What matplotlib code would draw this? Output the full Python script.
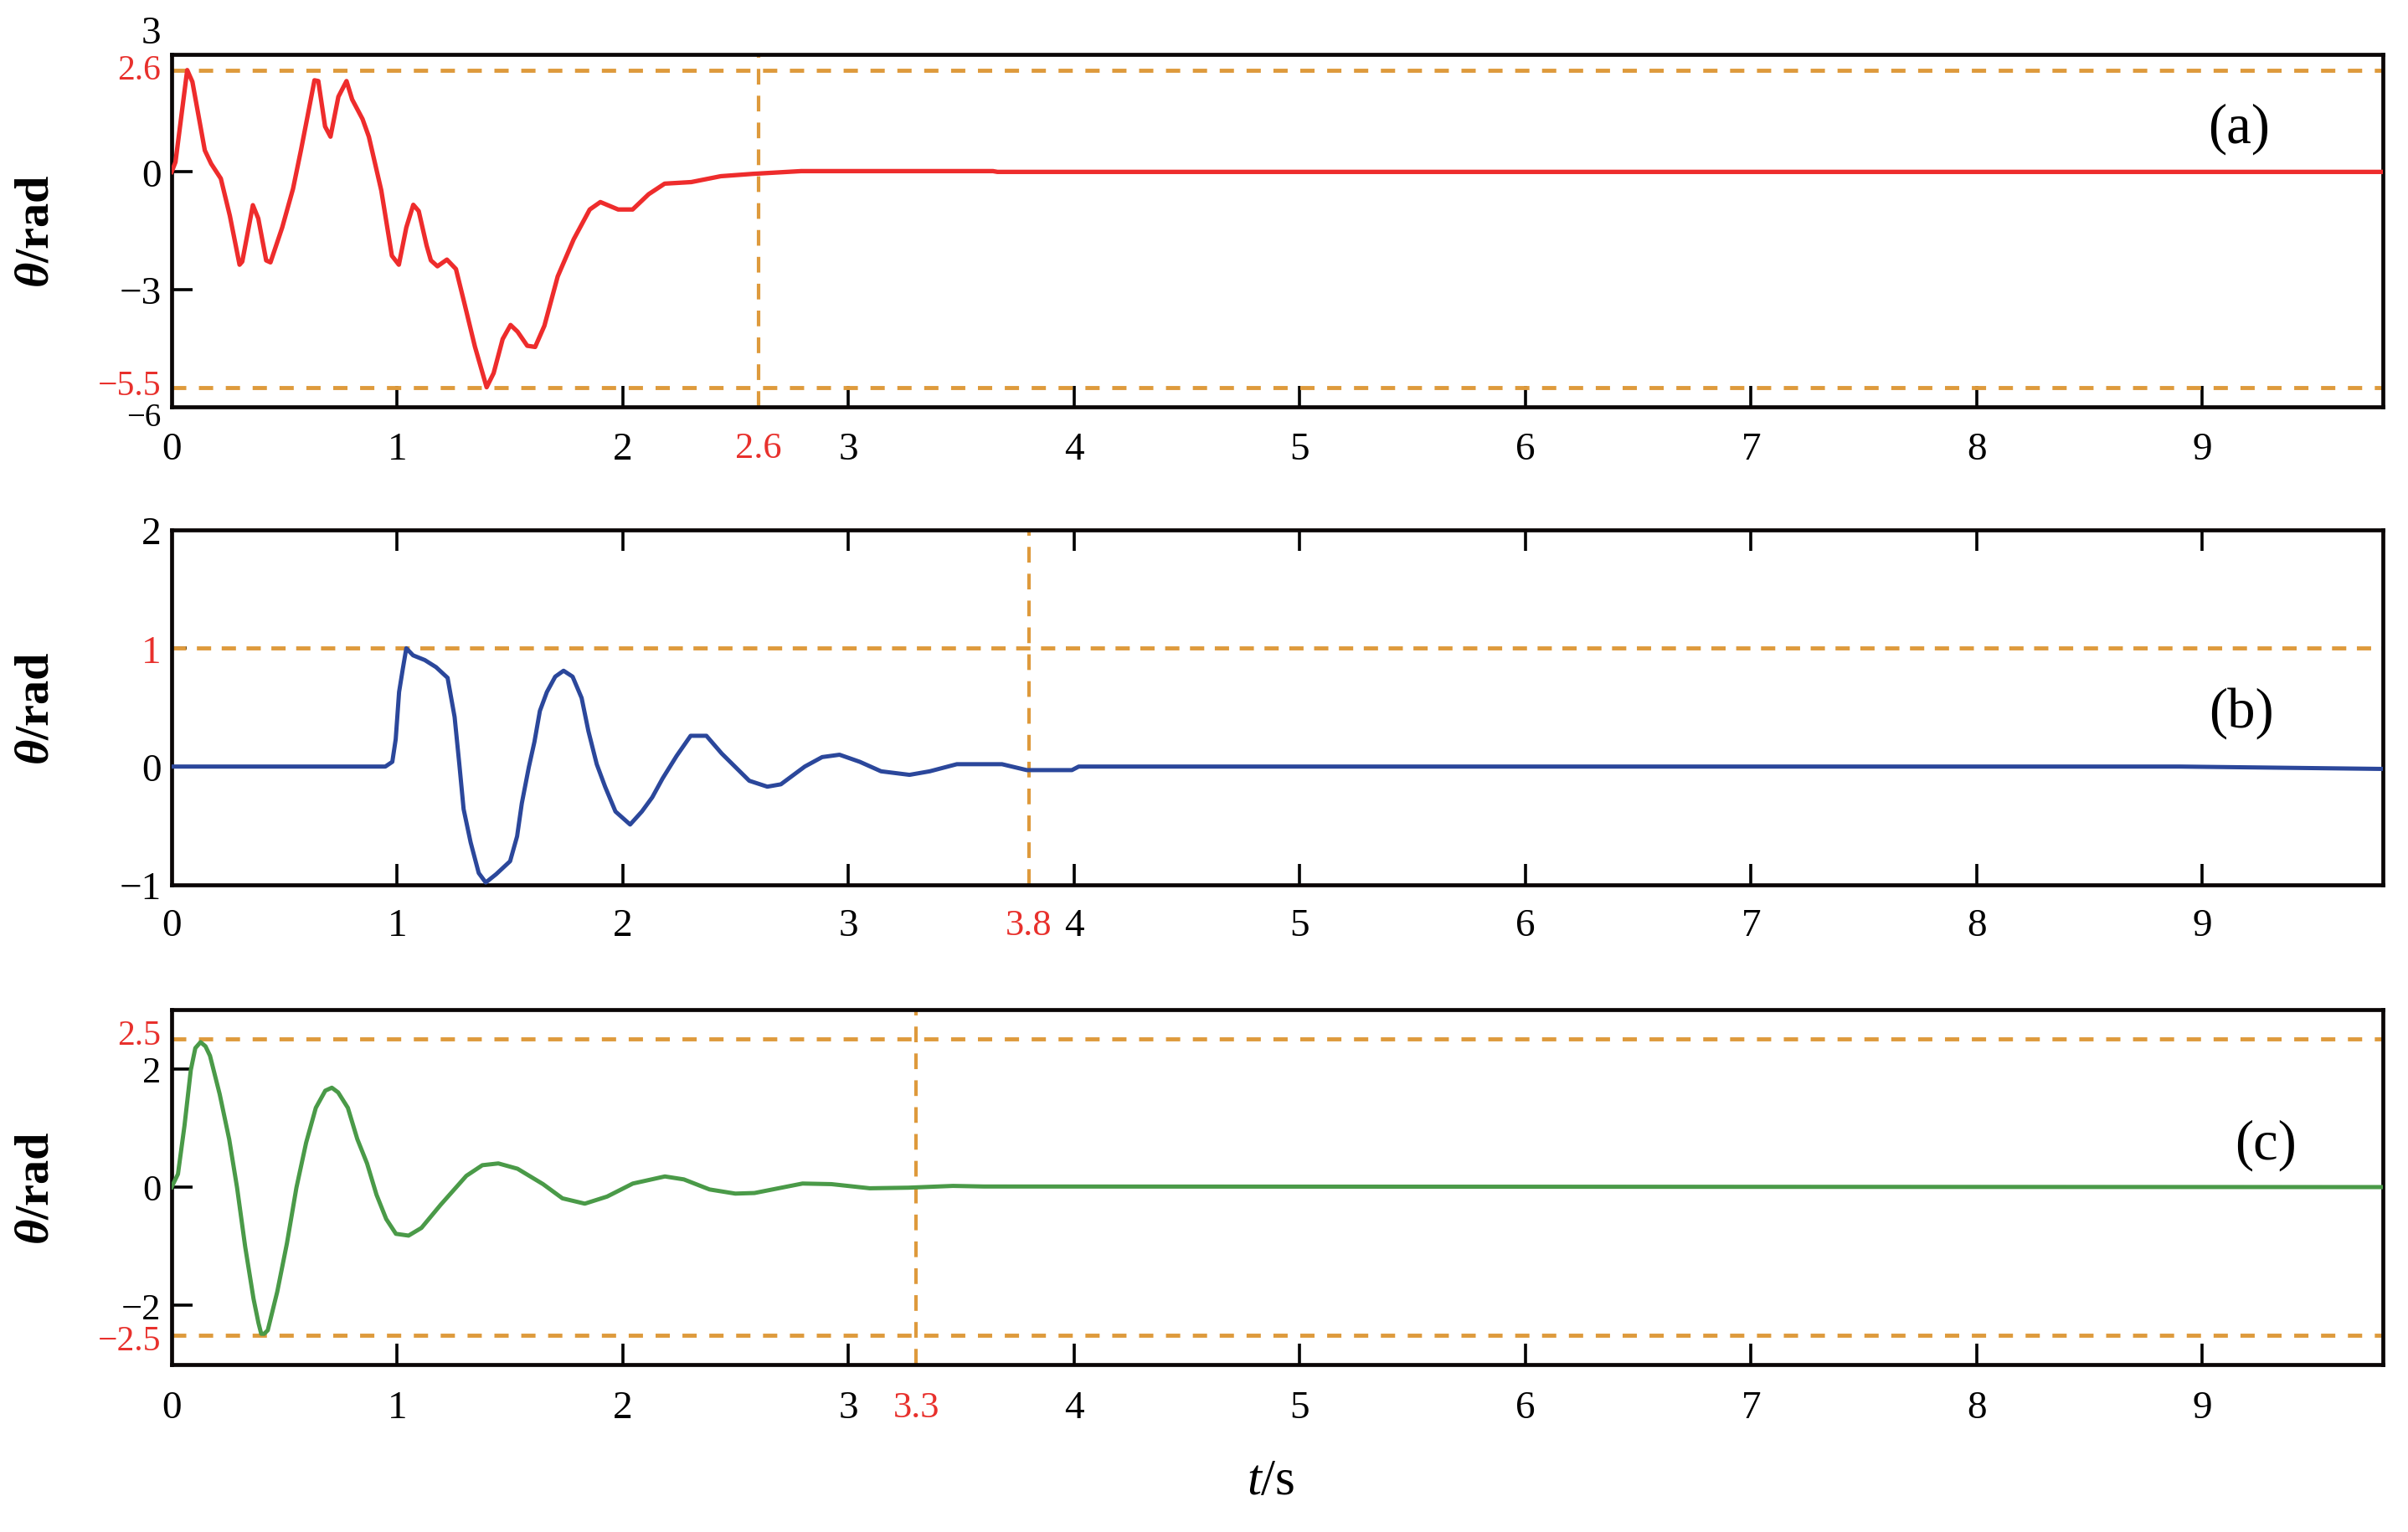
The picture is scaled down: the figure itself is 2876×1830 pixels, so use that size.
import matplotlib
matplotlib.use("Agg")
import matplotlib.pyplot as plt

plt.rcParams['font.family'] = ['Liberation Serif', 'DejaVu Serif']
plt.rcParams['mathtext.fontset'] = 'custom'
plt.rcParams['mathtext.rm'] = 'Liberation Serif'
plt.rcParams['mathtext.it'] = 'Liberation Serif:italic'
plt.rcParams['mathtext.bf'] = 'Liberation Serif:bold'
plt.rcParams['mathtext.bfit'] = 'Liberation Serif:bold:italic'

# ---------------- data ----------------
ta = [0, 0.017, 0.069, 0.092, 0.147, 0.175, 0.218, 0.258, 0.301, 0.313, 0.360, 0.384, 0.419,
      0.438, 0.49, 0.538, 0.573, 0.604, 0.633, 0.65, 0.68, 0.704, 0.739, 0.775, 0.80, 0.846,
      0.874, 0.929, 0.976, 1.007, 1.040, 1.071, 1.095, 1.130, 1.149, 1.178, 1.22, 1.26, 1.296,
      1.344, 1.396, 1.427, 1.467, 1.502, 1.533, 1.576, 1.611, 1.652, 1.711, 1.782, 1.853, 1.90,
      1.979, 2.043, 2.114, 2.185, 2.303, 2.434, 2.576, 2.79, 3.64, 3.66, 9.8]
ya = [0, 0.25, 2.6, 2.30, 0.55, 0.21, -0.17, -1.12, -2.37, -2.29, -0.85, -1.19, -2.26,
      -2.31, -1.42, -0.43, 0.55, 1.47, 2.34, 2.32, 1.16, 0.90, 1.92, 2.32, 1.85, 1.35,
      0.90, -0.47, -2.14, -2.37, -1.42, -0.84, -1.00, -1.88, -2.26, -2.41, -2.24, -2.48, -3.32,
      -4.46, -5.5, -5.14, -4.27, -3.91, -4.08, -4.44, -4.47, -3.93, -2.67, -1.72, -0.96, -0.77,
      -0.96, -0.96, -0.57, -0.30, -0.26, -0.11, -0.05, 0.02, 0.02, 0.0, 0.0]

tb = [0, 0.947, 0.978, 0.993, 1.008, 1.024, 1.04, 1.07, 1.122, 1.172, 1.223, 1.254, 1.275,
      1.294, 1.325, 1.361, 1.392, 1.438, 1.50, 1.531, 1.552, 1.583, 1.608, 1.632, 1.663, 1.70,
      1.737, 1.777, 1.817, 1.847, 1.884, 1.921, 1.967, 2.032, 2.084, 2.13, 2.176, 2.238, 2.30,
      2.37, 2.438, 2.56, 2.64, 2.70, 2.806, 2.883, 2.96, 3.05, 3.144, 3.27, 3.36, 3.48, 3.68,
      3.79, 3.99, 4.02, 8.9, 9.8]
yb = [0, 0, 0.04, 0.23, 0.63, 0.82, 1.0, 0.94, 0.90, 0.84, 0.75, 0.42, 0.02,
      -0.36, -0.64, -0.90, -0.98, -0.91, -0.80, -0.59, -0.31, -0.005, 0.21, 0.47, 0.63, 0.76,
      0.81, 0.76, 0.58, 0.30, 0.02, -0.17, -0.38, -0.49, -0.38, -0.26, -0.10, 0.09, 0.26,
      0.26, 0.11, -0.12, -0.17, -0.15, 0.0, 0.08, 0.10, 0.04, -0.04, -0.07, -0.04, 0.02, 0.02,
      -0.03, -0.03, 0.0, 0.0, -0.02]

tc = [0, 0.028, 0.057, 0.085, 0.105, 0.128, 0.15, 0.17, 0.213, 0.255, 0.29, 0.326, 0.363,
      0.385, 0.397, 0.41, 0.426, 0.468, 0.511, 0.553, 0.596, 0.639, 0.681, 0.71, 0.738, 0.781,
      0.823, 0.866, 0.908, 0.951, 0.994, 1.05, 1.107, 1.192, 1.306, 1.377, 1.448, 1.533,
      1.646, 1.732, 1.831, 1.93, 2.044, 2.186, 2.27, 2.384, 2.498, 2.583, 2.796, 2.924,
      3.094, 3.265, 3.463, 3.6, 9.8]
yc = [0, 0.22, 1.04, 1.98, 2.35, 2.45, 2.38, 2.22, 1.57, 0.81, -0.01, -1.01, -1.89,
      -2.30, -2.48, -2.48, -2.42, -1.77, -0.95, -0.01, 0.75, 1.34, 1.63, 1.68, 1.60, 1.34,
      0.81, 0.40, -0.13, -0.54, -0.79, -0.82, -0.69, -0.30, 0.19, 0.37, 0.40, 0.31,
      0.05, -0.19, -0.28, -0.16, 0.06, 0.18, 0.13, -0.04, -0.11, -0.10, 0.06, 0.05,
      -0.02, -0.01, 0.02, 0.01, 0.0]

int_ticks = [0, 1, 2, 3, 4, 5, 6, 7, 8, 9]
mark_a, mark_b, mark_c = 2.6, 3.8, 3.3
bounds_a = (2.6, -5.5)
bound_b = 1
bounds_c = (2.5, -2.5)

RED = '#E8302C'
ORANGE = '#DE9A3C'
LINE_RED = '#EE2C2C'
BLUE = '#2B479B'
GREEN = '#4A9A48'
MINUS = '\u2212'

W, H = 2876, 1831
fig = plt.figure(figsize=(W / 100, H / 100), dpi=100)

L = 205 / W
Wd = (2846 - 205) / W

def ax_at(top_px, bot_px):
    return fig.add_axes([L, 1 - bot_px / H, Wd, (bot_px - top_px) / H])

axa = ax_at(66, 487)
axb = ax_at(634, 1058)
axc = ax_at(1207, 1631)

TICK_FS = 34
RED_FS = 32

def fmt(v):
    s = ('%g' % v)
    return s.replace('-', MINUS)

def side_label(ax, text, y, dy, fs, color='black'):
    ax.annotate(text, xy=(0, y), xycoords=('axes fraction', 'data'), xytext=(-9, dy),
                textcoords='offset points', ha='right', va='center', fontsize=fs, color=color)

def style(ax, ylim, xmark, top_ticks=False, ytick_len=18, xpad=18):
    ax.set_xlim(0, 9.8)
    ax.set_ylim(*ylim)
    for s in ax.spines.values():
        s.set_linewidth(3.4)
        s.set_color('#0a0606')
    xt = sorted(int_ticks + [xmark])
    ax.set_xticks(xt)
    ax.set_xticklabels([fmt(v) for v in xt], fontsize=TICK_FS)
    ax.tick_params(axis='x', direction='in', length=18, width=2.6, pad=xpad,
                   top=top_ticks, bottom=True)
    ax.tick_params(axis='y', direction='in', length=ytick_len, width=2.6, pad=9,
                   left=True, right=False)
    for t, v in zip(ax.xaxis.get_major_ticks(), xt):
        if v == xmark:
            t.label1.set_color(RED)
            t.label1.set_fontsize(RED_FS)
            t.tick1line.set_visible(False)
            t.tick2line.set_visible(False)
        if v == 0:
            t.tick1line.set_visible(False)
            t.tick2line.set_visible(False)
    ax.axvline(xmark, color=ORANGE, lw=3.0, dashes=(4.5, 3.2))

def ylab(ax):
    ax.text(-0.061, 0.5, r'$\mathbfit{\theta}$/rad', transform=ax.transAxes,
            rotation=90, ha='center', va='center', fontsize=42, fontweight='bold')

# ---------------- panel a ----------------
axa.plot(ta, ya, color=LINE_RED, lw=3.8, zorder=3)
style(axa, (-6, 3), mark_a, xpad=21)
axa.set_yticks([0, -3])
axa.set_yticklabels([fmt(v) for v in (0, -3)], fontsize=TICK_FS)
for v in bounds_a:
    axa.axhline(v, color=ORANGE, lw=3.5, dashes=(3.5, 3.1))
side_label(axa, fmt(bounds_a[0]), bounds_a[0], 0, 30, RED)
side_label(axa, fmt(bounds_a[1]), bounds_a[1], 1, 30, RED)
side_label(axa, '3', 3, 18, TICK_FS)
side_label(axa, fmt(-6), -6, -9, 28)
axa.text(0.935, 0.79, '(a)', transform=axa.transAxes, ha='center', va='center', fontsize=48)
ylab(axa)

# ---------------- panel b ----------------
axb.plot(tb, yb, color=BLUE, lw=3.6, zorder=3)
style(axb, (-1, 2), mark_b, top_ticks=True, ytick_len=13, xpad=20)
yb_ticks = [-1, 0, bound_b, 2]
axb.set_yticks(yb_ticks)
axb.set_yticklabels([fmt(v) for v in yb_ticks], fontsize=TICK_FS)
for t, v in zip(axb.yaxis.get_major_ticks(), yb_ticks):
    if v == bound_b:
        t.label1.set_color(RED)
    if v in (-1, 2):
        t.tick1line.set_visible(False)
axb.axhline(bound_b, color=ORANGE, lw=3.5, dashes=(3.5, 2.6))
axb.text(0.936, 0.485, '(b)', transform=axb.transAxes, ha='center', va='center', fontsize=48)
ylab(axb)

# ---------------- panel c ----------------
axc.plot(tc, yc, color=GREEN, lw=3.6, zorder=3)
style(axc, (-3, 3), mark_c, ytick_len=18, xpad=22)
axc.set_yticks([-2, 0, 2])
axc.set_yticklabels([fmt(v) for v in (-2, 0, 2)], fontsize=32)
for v in bounds_c:
    axc.axhline(v, color=ORANGE, lw=3.5, dashes=(3.5, 3.1))
side_label(axc, fmt(bounds_c[0]), bounds_c[0], 3, 30, RED)
side_label(axc, fmt(bounds_c[1]), bounds_c[1], -5, 30, RED)
axc.text(0.947, 0.62, '(c)', transform=axc.transAxes, ha='center', va='center', fontsize=48)
ylab(axc)

fig.text(1518 / W, 1 - 1770 / H, r'$t$/s', ha='center', va='center', fontsize=44)

fig.savefig('out.png', dpi=100, facecolor='white')
